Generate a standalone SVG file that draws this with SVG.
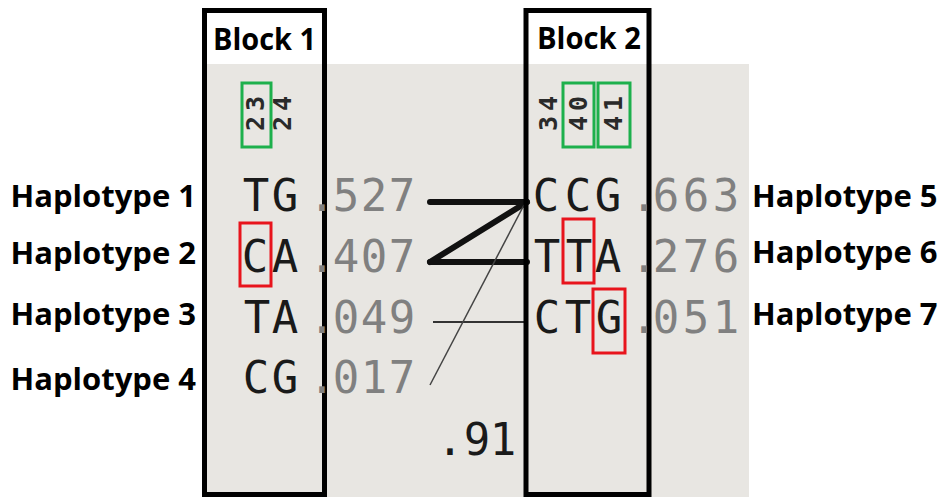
<svg xmlns="http://www.w3.org/2000/svg" width="945" height="497" viewBox="0 0 945 497">
  <style>
    .lbl { font-family: "Open Sans", "Liberation Sans", sans-serif; font-weight: bold; font-size: 31px; fill: #000; }
    .ttl { font-family: "Open Sans", "Liberation Sans", sans-serif; font-weight: bold; font-size: 30px; fill: #000; }
    .seq { font-family: "DejaVu Sans Mono", "Liberation Mono", monospace; font-size: 44px; fill: #1a1a1a; text-anchor: middle; }
    .frq { font-family: "DejaVu Sans Mono", "Liberation Mono", monospace; font-size: 44px; fill: #808080; text-anchor: middle; }
    .pos { font-family: "DejaVu Sans Mono", "Liberation Mono", monospace; font-size: 25px; font-weight: bold; fill: #2a2a2a; text-anchor: middle; letter-spacing: 5px; }
    .blk { fill: none; stroke: #000; stroke-width: 5; }
    .grn { fill: none; stroke: #1db04c; stroke-width: 3; }
    .red { fill: none; stroke: #e8141c; stroke-width: 3; }
    .thick { stroke: #111; stroke-width: 6; stroke-linecap: round; fill: none; }
    .thin { stroke: #333; stroke-width: 2; fill: none; }
    .hair { stroke: #444; stroke-width: 1.5; fill: none; }
  </style>

  <!-- canvas -->
  <rect x="0" y="0" width="945" height="497" fill="#fff"/>
  <rect x="205" y="64" width="544" height="433" fill="#e8e6e2"/>

  <!-- connectors between blocks -->
  <g id="connectors">
    <line class="thick" x1="430" y1="202" x2="527" y2="202"/>
    <line class="thick" x1="430" y1="262" x2="527" y2="202"/>
    <line class="thick" x1="430" y1="262" x2="527" y2="262"/>
    <line class="thin" x1="433" y1="322" x2="526" y2="322"/>
    <line class="hair" x1="430" y1="385" x2="524" y2="205"/>
  </g>

  <!-- block 1 -->
  <g id="block1">
    <rect class="blk" x="204.5" y="10.5" width="120" height="484"/>
    <text class="ttl" x="213" y="50" textLength="103" lengthAdjust="spacingAndGlyphs">Block 1</text>
    <text class="pos" transform="translate(255,111) rotate(-90)" dy="0.36em">23</text>
    <text class="pos" transform="translate(282,111) rotate(-90)" dy="0.36em">24</text>
    <rect class="grn" x="242" y="83" width="29" height="64"/>
  </g>

  <!-- block 2 -->
  <g id="block2">
    <rect class="blk" x="526" y="10.5" width="123" height="484"/>
    <text class="ttl" x="537" y="49" textLength="104" lengthAdjust="spacingAndGlyphs">Block 2</text>
    <text class="pos" transform="translate(548,111) rotate(-90)" dy="0.36em">34</text>
    <text class="pos" transform="translate(578,111) rotate(-90)" dy="0.36em">40</text>
    <text class="pos" transform="translate(613,111) rotate(-90)" dy="0.36em">41</text>
    <rect class="grn" x="563" y="83" width="31" height="64"/>
    <rect class="grn" x="598" y="83" width="32" height="64"/>
  </g>

  <!-- block 1 haplotypes -->
  <g id="hap1">
    <text class="lbl" x="196" y="207" text-anchor="end">Haplotype 1</text>
    <text class="seq" x="256 285" y="211">TG</text>
    <text class="frq" x="322 346 374 402" y="211">.527</text>
  </g>
  <g id="hap2">
    <text class="lbl" x="196" y="264" text-anchor="end">Haplotype 2</text>
    <text class="seq" x="255 285" y="272">CA</text>
    <text class="frq" x="322 346 374 402" y="272">.407</text>
    <rect class="red" x="240" y="223" width="31" height="63"/>
  </g>
  <g id="hap3">
    <text class="lbl" x="196" y="325" text-anchor="end">Haplotype 3</text>
    <text class="seq" x="257 285" y="333">TA</text>
    <text class="frq" x="322 346 374 402" y="333">.049</text>
  </g>
  <g id="hap4">
    <text class="lbl" x="196" y="390" text-anchor="end">Haplotype 4</text>
    <text class="seq" x="256 285" y="393">CG</text>
    <text class="frq" x="322 346 374 402" y="393">.017</text>
  </g>

  <!-- block 2 haplotypes -->
  <g id="hap5">
    <text class="seq" x="546 578 608" y="211">CCG</text>
    <text class="frq" x="644 666 696 726" y="211">.663</text>
    <text class="lbl" x="752" y="207">Haplotype 5</text>
  </g>
  <g id="hap6">
    <text class="seq" x="547 579 608" y="272">TTA</text>
    <text class="frq" x="644 666 696 726" y="272">.276</text>
    <text class="lbl" x="752" y="263">Haplotype 6</text>
    <rect class="red" x="563" y="219" width="31" height="64"/>
  </g>
  <g id="hap7">
    <text class="seq" x="547 578 609" y="333">CTG</text>
    <text class="frq" x="644 666 696 726" y="333">.051</text>
    <text class="lbl" x="752" y="325">Haplotype 7</text>
    <rect class="red" x="593" y="289" width="32" height="64"/>
  </g>

  <!-- multiallelic D' -->
  <text class="seq" x="450 477 503" y="455">.91</text>
</svg>
